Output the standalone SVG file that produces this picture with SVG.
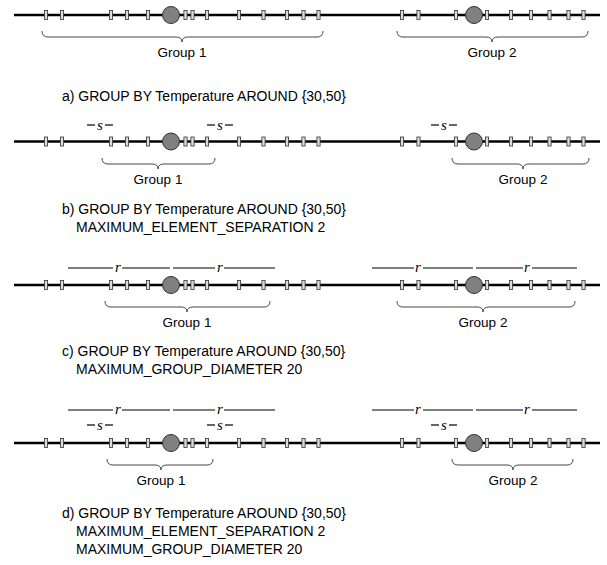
<svg xmlns="http://www.w3.org/2000/svg" width="607" height="565" viewBox="0 0 607 565">
<defs>
<style>
.axis{stroke:#000;stroke-width:2.6;fill:none}
.tk{fill:#dcdcdc;stroke:#333;stroke-width:0.8}
.pt{fill:#808080;stroke:#333;stroke-width:1}
.br{fill:none;stroke:#333;stroke-width:0.9}
.ms{stroke:#000;stroke-width:1.2;fill:none}
.lbl{font-family:"Liberation Sans",Arial,sans-serif;font-size:13.5px;fill:#000}
.cap{font-family:"Liberation Sans",Arial,sans-serif;font-size:14px;fill:#000}
.var{font-family:"Liberation Serif","Times New Roman",serif;font-style:italic;font-size:15px;fill:#000}
</style>
<g id="ticks">
<rect class="tk" x="-1.6" y="-4.5" width="3.2" height="9"/>
</g>
<g id="row">
<line class="axis" x1="14" y1="0" x2="600" y2="0"/>
<use href="#ticks" x="46"/><use href="#ticks" x="62"/><use href="#ticks" x="111"/><use href="#ticks" x="127"/><use href="#ticks" x="148"/>
<use href="#ticks" x="185.5"/><use href="#ticks" x="192.5"/><use href="#ticks" x="207"/><use href="#ticks" x="239"/><use href="#ticks" x="263.5"/><use href="#ticks" x="287"/><use href="#ticks" x="303.5"/><use href="#ticks" x="318.5"/>
<use href="#ticks" x="402"/><use href="#ticks" x="418.5"/><use href="#ticks" x="456"/><use href="#ticks" x="487"/><use href="#ticks" x="511"/><use href="#ticks" x="531"/><use href="#ticks" x="549.5"/><use href="#ticks" x="568.5"/><use href="#ticks" x="583.5"/>
<circle class="pt" cx="171" cy="0" r="8.5"/>
<circle class="pt" cx="474" cy="0" r="8.5"/>
</g>
</defs>

<g id="row-a">
<use href="#row" y="15"/>
</g>
<g id="row-b">
<use href="#row" y="141.5"/>
</g>
<g id="row-c">
<use href="#row" y="285"/>
</g>
<g id="row-d">
<use href="#row" y="443"/>
</g>

<g id="connectors">
<path class="br" d="M42,31 Q42,37 48,37 L176,37 Q182,37 182,42 Q182,37 188,37 L317,37 Q323,37 323,31"/>
<path class="br" d="M397,31 Q397,37 403,37 L486,37 Q492,37 492,42 Q492,37 498,37 L582,37 Q588,37 588,31"/>
<path class="br" d="M102,158 Q102,164 108,164 L152,164 Q158,164 158,169 Q158,164 164,164 L209,164 Q215,164 215,158"/>
<path class="br" d="M452,158 Q452,164 458,164 L517,164 Q523,164 523,169 Q523,164 529,164 L583,164 Q589,164 589,158"/>
<path class="br" d="M105,301 Q105,307 111,307 L181,307 Q187,307 187,312 Q187,307 193,307 L264,307 Q270,307 270,301"/>
<path class="br" d="M397,301 Q397,307 403,307 L477,307 Q483,307 483,312 Q483,307 489,307 L569,307 Q575,307 575,301"/>
<path class="br" d="M107,459 Q107,465 113,465 L155,465 Q161,465 161,470 Q161,465 167,465 L207,465 Q213,465 213,459"/>
<path class="br" d="M452,459 Q452,465 458,465 L507,465 Q513,465 513,470 Q513,465 519,465 L567,465 Q573,465 573,459"/>
</g>

<g id="separation-marks">
<line class="ms" x1="87" y1="125" x2="95" y2="125"/><line class="ms" x1="105" y1="125" x2="113" y2="125"/><text class="var" x="100" y="130" text-anchor="middle">s</text>
<line class="ms" x1="207" y1="125" x2="215" y2="125"/><line class="ms" x1="225" y1="125" x2="233" y2="125"/><text class="var" x="220" y="130" text-anchor="middle">s</text>
<line class="ms" x1="431" y1="125" x2="439" y2="125"/><line class="ms" x1="449" y1="125" x2="457" y2="125"/><text class="var" x="444" y="130" text-anchor="middle">s</text>
<line class="ms" x1="87" y1="425" x2="95" y2="425"/><line class="ms" x1="105" y1="425" x2="113" y2="425"/><text class="var" x="100" y="430" text-anchor="middle">s</text>
<line class="ms" x1="207" y1="425" x2="215" y2="425"/><line class="ms" x1="225" y1="425" x2="233" y2="425"/><text class="var" x="220" y="430" text-anchor="middle">s</text>
<line class="ms" x1="431" y1="425" x2="439" y2="425"/><line class="ms" x1="449" y1="425" x2="457" y2="425"/><text class="var" x="444" y="430" text-anchor="middle">s</text>
</g>

<g id="diameter-marks">
<line class="ms" x1="68" y1="268" x2="113" y2="268"/><line class="ms" x1="122" y1="268" x2="170" y2="268"/><text class="var" x="118" y="272" text-anchor="middle">r</text>
<line class="ms" x1="173" y1="268" x2="215" y2="268"/><line class="ms" x1="224" y1="268" x2="275" y2="268"/><text class="var" x="220" y="272" text-anchor="middle">r</text>
<line class="ms" x1="372" y1="268" x2="414" y2="268"/><line class="ms" x1="423" y1="268" x2="473" y2="268"/><text class="var" x="418" y="272" text-anchor="middle">r</text>
<line class="ms" x1="476" y1="268" x2="523" y2="268"/><line class="ms" x1="532" y1="268" x2="577" y2="268"/><text class="var" x="527" y="272" text-anchor="middle">r</text>
<line class="ms" x1="68" y1="410" x2="113" y2="410"/><line class="ms" x1="122" y1="410" x2="170" y2="410"/><text class="var" x="118" y="414" text-anchor="middle">r</text>
<line class="ms" x1="173" y1="410" x2="215" y2="410"/><line class="ms" x1="224" y1="410" x2="275" y2="410"/><text class="var" x="220" y="414" text-anchor="middle">r</text>
<line class="ms" x1="372" y1="410" x2="414" y2="410"/><line class="ms" x1="423" y1="410" x2="473" y2="410"/><text class="var" x="418" y="414" text-anchor="middle">r</text>
<line class="ms" x1="476" y1="410" x2="523" y2="410"/><line class="ms" x1="532" y1="410" x2="577" y2="410"/><text class="var" x="527" y="414" text-anchor="middle">r</text>
</g>

<g id="group-labels">
<text class="lbl" x="182" y="57" text-anchor="middle">Group 1</text>
<text class="lbl" x="492" y="57" text-anchor="middle">Group 2</text>
<text class="lbl" x="158" y="184" text-anchor="middle">Group 1</text>
<text class="lbl" x="523" y="184" text-anchor="middle">Group 2</text>
<text class="lbl" x="187" y="327" text-anchor="middle">Group 1</text>
<text class="lbl" x="483" y="327" text-anchor="middle">Group 2</text>
<text class="lbl" x="161" y="485" text-anchor="middle">Group 1</text>
<text class="lbl" x="513" y="485" text-anchor="middle">Group 2</text>
</g>

<g id="captions">
<text class="cap" x="62" y="101">a) GROUP BY Temperature AROUND {30,50}</text>
<text class="cap" x="62" y="214">b) GROUP BY Temperature AROUND {30,50}</text>
<text class="cap" x="76" y="232">MAXIMUM_ELEMENT_SEPARATION 2</text>
<text class="cap" x="62" y="356">c) GROUP BY Temperature AROUND {30,50}</text>
<text class="cap" x="76" y="374">MAXIMUM_GROUP_DIAMETER 20</text>
<text class="cap" x="62" y="518">d) GROUP BY Temperature AROUND {30,50}</text>
<text class="cap" x="76" y="536">MAXIMUM_ELEMENT_SEPARATION 2</text>
<text class="cap" x="76" y="554">MAXIMUM_GROUP_DIAMETER 20</text>
</g>
</svg>
